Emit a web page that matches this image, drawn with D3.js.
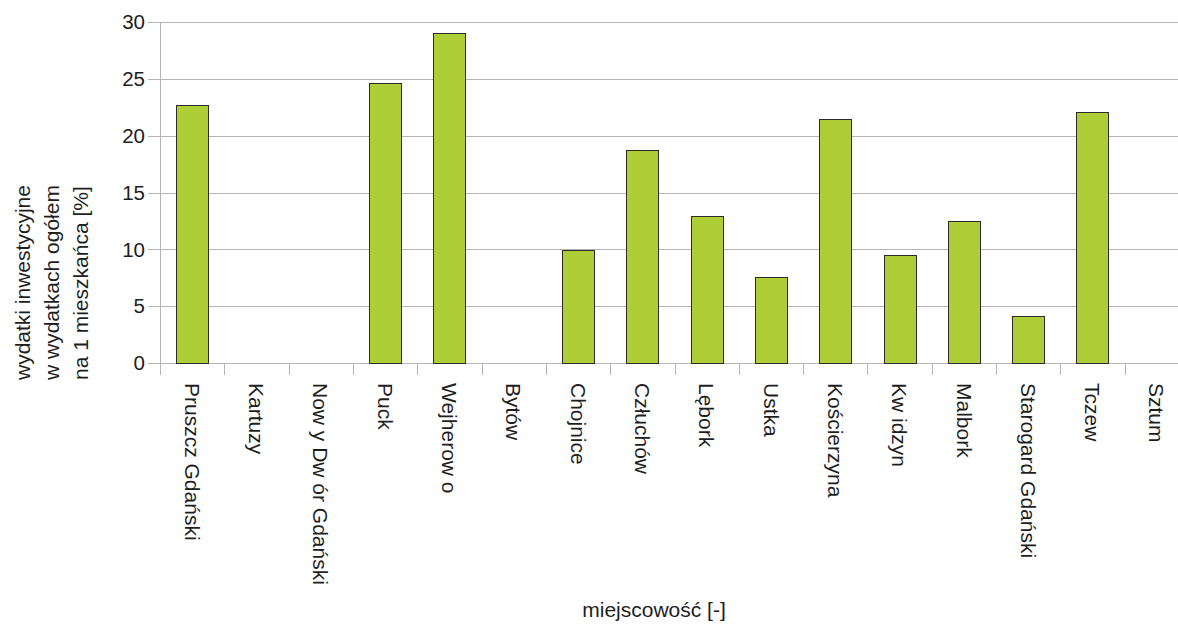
<!DOCTYPE html>
<html><head><meta charset="utf-8">
<script src="https://cdn.jsdelivr.net/npm/d3@7"></script>
<style>html,body{margin:0;padding:0;background:#fff;overflow:hidden}svg{display:block}</style>
</head><body>
<svg id="c" width="1178" height="624"></svg>
<script>
const categories = ["Pruszcz Gdański","Kartuzy","Now y Dw ór Gdański","Puck","Wejherow o","Bytów","Chojnice","Człuchów","Lębork","Ustka","Kościerzyna","Kw idzyn","Malbork","Starogard Gdański","Tczew","Sztum"];
const values = [22.7, 0, 0, 24.6, 29.0, 0, 9.9, 18.7, 12.9, 7.6, 21.5, 9.5, 12.5, 4.1, 22.1, 0];
const yTicks = [0,5,10,15,20,25,30];
const yTitleLines = ["wydatki inwestycyjne","w wydatkach ogółem","na 1 mieszkańca [%]"];
const xTitle = "miejscowość [-]";

(function(){
const svg = d3.select("#c");
const font = "'Liberation Sans', Arial, sans-serif";
const pL = 160, pR = 1189, pT = 22, pB = 363;
const x = d3.scaleBand().domain(categories).range([pL, pR]).paddingInner(0.5).paddingOuter(0.25);
const y = d3.scaleLinear().domain([0,30]).range([pB, pT]);
const gridColor = "#b5b5b5";

svg.append("g").selectAll("line").data(yTicks).join("line")
  .attr("x1", pL-12).attr("x2", pR)
  .attr("y1", d=>Math.round(y(d))+0.5).attr("y2", d=>Math.round(y(d))+0.5)
  .attr("stroke", gridColor).attr("stroke-width", 1);

svg.append("line").attr("x1", pL+0.5).attr("x2", pL+0.5).attr("y1", pT).attr("y2", pB+12)
  .attr("stroke", gridColor);

const bounds = d3.range(categories.length+1).map(i => pL + i*(pR-pL)/categories.length);
svg.append("g").selectAll("line").data(bounds).join("line")
  .attr("x1", d=>Math.round(d)+0.5).attr("x2", d=>Math.round(d)+0.5)
  .attr("y1", pB).attr("y2", pB+12)
  .attr("stroke", gridColor);

svg.append("g").selectAll("rect").data(values.map((v,i)=>({v, c:categories[i]})).filter(d=>d.v>0)).join("rect")
  .attr("x", d=>Math.round(x(d.c))+0.5)
  .attr("y", d=>Math.round(y(d.v))+0.5)
  .attr("width", Math.round(x.bandwidth()))
  .attr("height", d=>Math.round(y(0))-Math.round(y(d.v)))
  .attr("fill", "#adce36").attr("stroke", "#2b2b2b").attr("stroke-width", 1);

svg.append("g").selectAll("text").data(yTicks).join("text")
  .attr("x", 145).attr("y", d=>y(d)).attr("dy", "0.35em")
  .attr("text-anchor", "end").attr("font-family", font).attr("font-size", 20.5).attr("fill", "#1e1e1e")
  .text(d=>d);

svg.append("g").selectAll("text").data(categories).join("text")
  .attr("transform", d=>`translate(${x(d)+x.bandwidth()/2},383) rotate(90)`)
  .attr("dy", "0.35em").attr("text-anchor", "start")
  .attr("font-family", font).attr("font-size", 21).attr("fill", "#1e1e1e")
  .text(d=>d);

const yt = [23, 52, 81];
svg.append("g").selectAll("text").data(yTitleLines).join("text")
  .attr("transform", (d,i)=>`translate(${yt[i]},380) rotate(-90)`)
  .attr("dy", "0.35em").attr("text-anchor", "start")
  .attr("font-family", font).attr("font-size", 21).attr("fill", "#1e1e1e")
  .text(d=>d);

svg.append("text").attr("x", 654).attr("y", 617).attr("text-anchor", "middle")
  .attr("font-family", font).attr("font-size", 21).attr("fill", "#1e1e1e").text(xTitle);
})();
</script>
</body></html>
